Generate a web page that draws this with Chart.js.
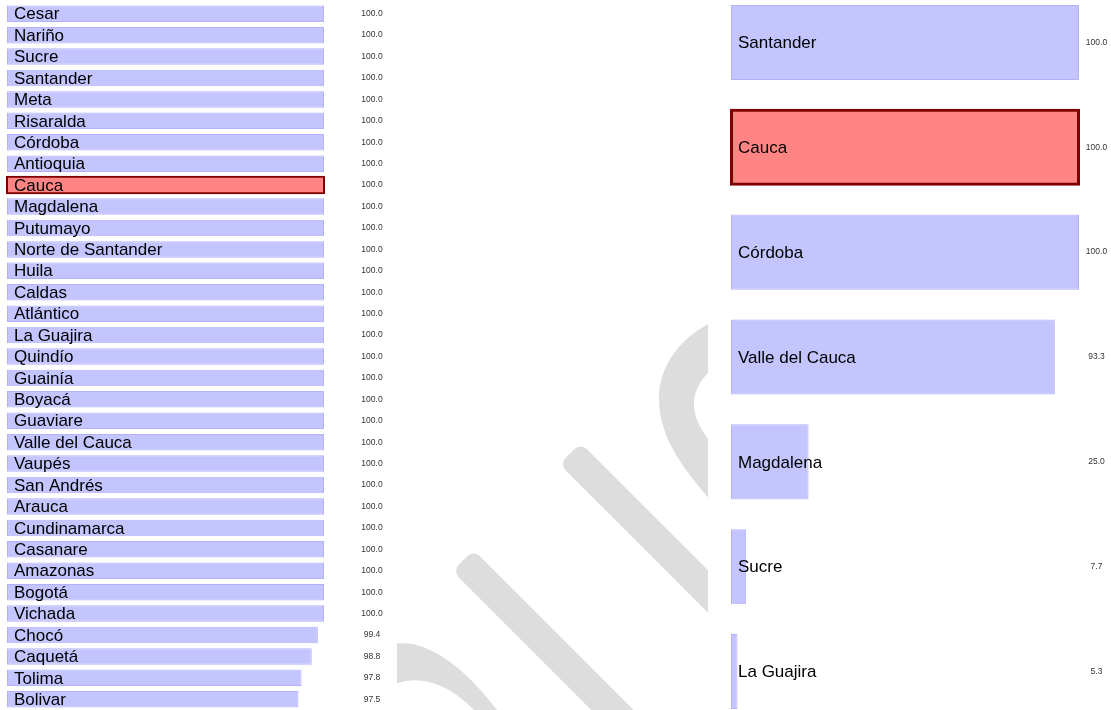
<!DOCTYPE html>
<html>
<head>
<meta charset="utf-8">
<script src="https://cdn.jsdelivr.net/npm/chart.js@4/dist/chart.umd.min.js"></script>
<style>
  html, body { margin: 0; padding: 0; background: #fff; overflow: hidden; width: 1111px; height: 710px; }
  #mark { position: absolute; left: 397px; top: 0; width: 311px; height: 710px; overflow: hidden; }
  #mark svg { position: absolute; left: -397px; top: 0; }
  #leftBox { position: absolute; left: 0; top: 0; width: 400px; height: 710px; }
  #rightBox { position: absolute; left: 708px; top: -10px; width: 403px; height: 734px; background: #fff; }
</style>
</head>
<body>
<div id="mark">
  <svg width="1111" height="710" viewBox="0 0 1111 710" xmlns="http://www.w3.org/2000/svg">
    <g fill="#dddddd">
      <path d="M 730 316 C 690 326, 659 360, 659 398 C 659 438, 682 470, 730 522 L 730 462 C 705 440, 693 420, 694 402 C 695 385, 708 368, 730 358 Z"/>
      <rect x="0" y="-15" width="420" height="30" rx="9" transform="translate(570 453.5) rotate(45)"/>
      <rect x="0" y="-15" width="420" height="30" rx="9" transform="translate(463 560.5) rotate(45)"/>
      <path d="M 390 645 C 420 636, 460 660, 500 714 L 478 714 C 450 684, 420 672, 390 686 Z"/>
    </g>
  </svg>
</div>
<div id="leftBox"><canvas id="leftChart"></canvas></div>
<div id="rightBox"><canvas id="rightChart"></canvas></div>
<script>
// Cobertura por departamento (%)
const leftCategories = [
  'Cesar', 'Nariño', 'Sucre', 'Santander', 'Meta', 'Risaralda', 'Córdoba', 'Antioquia',
  'Cauca', 'Magdalena', 'Putumayo', 'Norte de Santander', 'Huila', 'Caldas', 'Atlántico',
  'La Guajira', 'Quindío', 'Guainía', 'Boyacá', 'Guaviare', 'Valle del Cauca', 'Vaupés',
  'San Andrés', 'Arauca', 'Cundinamarca', 'Casanare', 'Amazonas', 'Bogotá', 'Vichada',
  'Chocó', 'Caquetá', 'Tolima', 'Bolivar'
];
const leftValues = [
  100.0, 100.0, 100.0, 100.0, 100.0, 100.0, 100.0, 100.0,
  100.0, 100.0, 100.0, 100.0, 100.0, 100.0, 100.0,
  100.0, 100.0, 100.0, 100.0, 100.0, 100.0, 100.0,
  100.0, 100.0, 100.0, 100.0, 100.0, 100.0, 100.0,
  99.4, 98.8, 97.8, 97.5
];

const rightCategories = ['Santander', 'Cauca', 'Córdoba', 'Valle del Cauca', 'Magdalena', 'Sucre', 'La Guajira'];
const rightValues = [100.0, 100.0, 100.0, 93.3, 25.0, 7.7, 5.3];

const highlighted = 'Cauca';

const baseFill = 'rgb(196,196,255)';
const baseBorder = 'rgb(178,178,250)';
const hiFill = 'rgb(255,133,133)';
const hiBorder = '#800000';

// Writes the department name inside each bar and its value to the right of the plot
const barText = {
  id: 'barText',
  afterDatasetsDraw(chart, args, opts) {
    const ctx = chart.ctx;
    const area = chart.chartArea;
    const ds = chart.data.datasets[0];
    chart.getDatasetMeta(0).data.forEach((bar, i) => {
      ctx.save();
      ctx.textBaseline = 'middle';
      ctx.font = opts.nameFont;
      ctx.fillStyle = '#000';
      ctx.textAlign = 'left';
      ctx.fillText(chart.data.labels[i], area.left + opts.nameOffset, bar.y + 1);
      ctx.font = opts.valueFont;
      ctx.fillStyle = '#333';
      ctx.textAlign = 'center';
      ctx.fillText(ds.data[i].toFixed(1), area.right + opts.valueOffset, bar.y);
      ctx.restore();
    });
  }
};

function makeChart(id, labels, values, xMin, barPct, padding, hiWidth, valueOffset) {
  return new Chart(document.getElementById(id), {
    type: 'bar',
    data: {
      labels: labels,
      datasets: [{
        data: values,
        base: xMin,
        backgroundColor: labels.map(l => l === highlighted ? hiFill : baseFill),
        borderColor: labels.map(l => l === highlighted ? hiBorder : baseBorder),
        borderWidth: labels.map(l => l === highlighted ? hiWidth : 1),
        inflateAmount: labels.map(l => l === highlighted ? 1 : 0),
        borderSkipped: false,
        clip: false,
        barPercentage: barPct,
        categoryPercentage: 1
      }]
    },
    options: {
      indexAxis: 'y',
      responsive: true,
      maintainAspectRatio: false,
      animation: false,
      layout: { padding: padding },
      scales: {
        x: { display: false, min: xMin, max: 100 },
        y: { display: false }
      },
      plugins: {
        legend: { display: false },
        tooltip: { enabled: false },
        barText: {
          nameFont: '17px "Liberation Sans", Arial, sans-serif',
          valueFont: '8.5px "Liberation Sans", Arial, sans-serif',
          nameOffset: 7,
          valueOffset: valueOffset
        }
      }
    },
    plugins: [barText]
  });
}

makeChart('leftChart', leftCategories, leftValues, 69, 0.77,
  { left: 7, right: 76, top: 3, bottom: 0 }, 2, 48);
makeChart('rightChart', rightCategories, rightValues, 3.5, 0.716,
  { left: 23, right: 32, top: 0, bottom: 0 }, 3, 17.5);
</script>
</body>
</html>
